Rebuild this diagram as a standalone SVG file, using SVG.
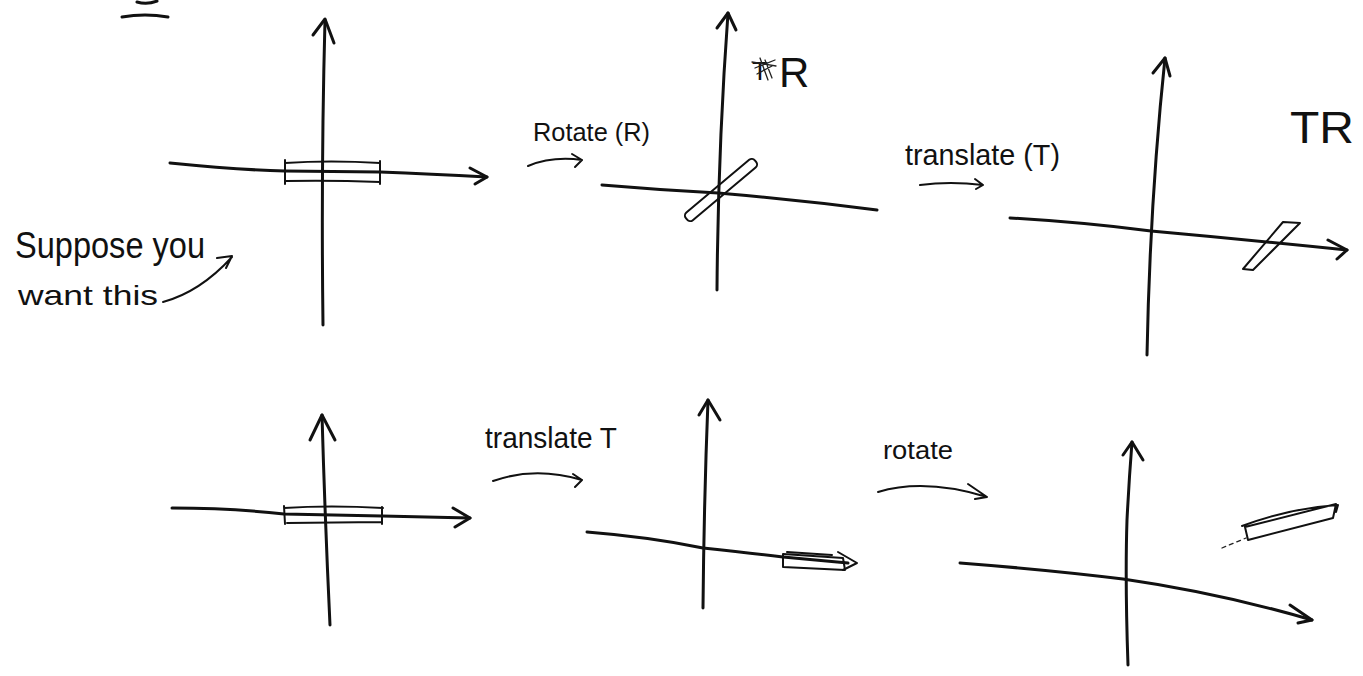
<svg xmlns="http://www.w3.org/2000/svg" width="1363" height="676" viewBox="0 0 1363 676">
  <style>
    .ax { fill: none; stroke: #111; stroke-width: 3; stroke-linecap: round; stroke-linejoin: round; }
    .ln { fill: none; stroke: #111; stroke-width: 2; stroke-linecap: round; stroke-linejoin: round; }
    .fine { fill: none; stroke: #222; stroke-width: 1.3; stroke-linecap: round; }
    .hand { font-family: "Liberation Sans", "DejaVu Sans", sans-serif; fill: #111; }
  </style>
  <rect width="1363" height="676" fill="#fff"/>

  <!-- corner mark, cut off at the top edge -->
  <g id="corner-mark">
    <path class="ax" d="M137 2 Q147 5 157 1"/>
    <path class="ax" d="M122 17 Q145 13 168 17"/>
  </g>

  <!-- top row, panel 1: starting frame with box on the x axis -->
  <g id="frame-start-top">
    <path class="ax" d="M323 325 Q321 170 325 20"/>
    <path class="ax" d="M313 35 L325 19 L334 43"/>
    <path class="ax" d="M170 163 Q240 170 285 171 L380 172 Q430 174 487 177"/>
    <path class="ax" d="M470 168 L487 177 L475 184"/>
    <path class="ln" d="M285 163 Q330 160 380 163 M286 181 Q330 180 380 182 M285 160 L285 184 M380 161 L380 184"/>
  </g>

  <g id="note-suppose">
    <text class="hand" x="15" y="258" font-size="36" textLength="190" lengthAdjust="spacingAndGlyphs">Suppose you</text>
    <text class="hand" x="18" y="305" font-size="28" textLength="140" lengthAdjust="spacingAndGlyphs">want this</text>
    <path class="ln" d="M163 302 Q200 292 232 257 M217 258 L232 256 L226 268"/>
  </g>

  <!-- top row, panel 2: after rotation R -->
  <g id="frame-rotated">
    <path class="ax" d="M717 290 Q718 150 728 13"/>
    <path class="ax" d="M717 28 L728 13 L736 30"/>
    <path class="ax" d="M602 185 Q660 190 718 193 Q800 200 877 210"/>
    <rect class="ln" x="-45" y="-5" width="90" height="10" rx="4" transform="translate(721 190) rotate(-40)"/>
    <text class="hand" x="752" y="80" font-size="26">T</text>
    <path class="fine" d="M752 62 L776 66 M755 68 L775 60 M757 74 L772 66 M760 58 L768 80 M765 60 L772 78"/>
    <text class="hand" x="779" y="87" font-size="42">R</text>
  </g>

  <g id="step-rotate-R">
    <text class="hand" x="533" y="141" font-size="26" textLength="117" lengthAdjust="spacingAndGlyphs">Rotate (R)</text>
    <path class="ln" d="M528 166 Q552 156 582 160 M572 154 L582 160 L575 167"/>
  </g>

  <!-- top row, panel 3: then translated, giving TR -->
  <g id="frame-TR">
    <path class="ax" d="M1147 355 Q1150 200 1165 58"/>
    <path class="ax" d="M1153 73 L1165 58 L1170 76"/>
    <path class="ax" d="M1010 218 Q1080 222 1151 231 Q1250 240 1347 250"/>
    <path class="ax" d="M1328 240 L1347 250 L1337 259"/>
    <path class="ln" d="M1283 222 L1300 223 L1253 270 L1243 269 Z"/>
    <text class="hand" x="1290" y="143" font-size="44" textLength="64" lengthAdjust="spacingAndGlyphs">TR</text>
  </g>

  <g id="step-translate-T">
    <text class="hand" x="905" y="165" font-size="30" textLength="155" lengthAdjust="spacingAndGlyphs">translate (T)</text>
    <path class="ln" d="M920 185 Q950 181 983 185 M975 179 L983 185 L976 189"/>
  </g>

  <!-- bottom row, panel 4: starting frame again -->
  <g id="frame-start-bottom">
    <path class="ax" d="M330 625 Q325 520 322 415"/>
    <path class="ax" d="M310 440 L322 415 L335 440"/>
    <path class="ax" d="M172 508 Q230 508 284 514 L382 516 Q420 517 470 518"/>
    <path class="ax" d="M453 508 L470 518 L455 527"/>
    <path class="ln" d="M284 508 Q330 505 383 508 M287 523 L382 522 M284 506 L285 524 M382 507 L382 524"/>
  </g>

  <!-- bottom row, panel 5: translated first -->
  <g id="frame-translated">
    <path class="ax" d="M703 608 Q704 500 708 400"/>
    <path class="ax" d="M699 415 L708 400 L720 420"/>
    <path class="ax" d="M587 532 Q650 537 703 548 Q750 553 783 557 L848 563"/>
    <path class="ln" d="M783 554 L843 558 L845 570 L783 567 Z M787 552 L832 555"/>
    <path class="ln" d="M838 552 L857 563 L843 570"/>
  </g>

  <g id="step-translate">
    <text class="hand" x="485" y="448" font-size="30" textLength="132" lengthAdjust="spacingAndGlyphs">translate T</text>
    <path class="ln" d="M493 481 Q535 466 582 480 M573 474 L582 480 L575 487"/>
  </g>

  <!-- bottom row, panel 6: then rotated about the origin -->
  <g id="frame-translated-rotated">
    <path class="ax" d="M1128 665 Q1125 580 1127 520 Q1129 480 1132 442"/>
    <path class="ax" d="M1123 455 L1132 442 L1143 460"/>
    <path class="ax" d="M960 563 Q1050 570 1123 579 Q1220 593 1312 620"/>
    <path class="ax" d="M1290 605 L1312 620 L1298 623"/>
    <path class="ln" d="M1245 527 L1336 504 L1333 518 L1248 540 Z M1242 526 Q1290 508 1338 505 L1336 512"/>
    <path class="fine" d="M1222 548 L1246 538" stroke-dasharray="4 4"/>
  </g>

  <g id="step-rotate">
    <text class="hand" x="883" y="459" font-size="26" textLength="70" lengthAdjust="spacingAndGlyphs">rotate</text>
    <path class="ln" d="M878 492 Q925 478 987 497 M968 484 L987 497 L975 499"/>
  </g>
</svg>
